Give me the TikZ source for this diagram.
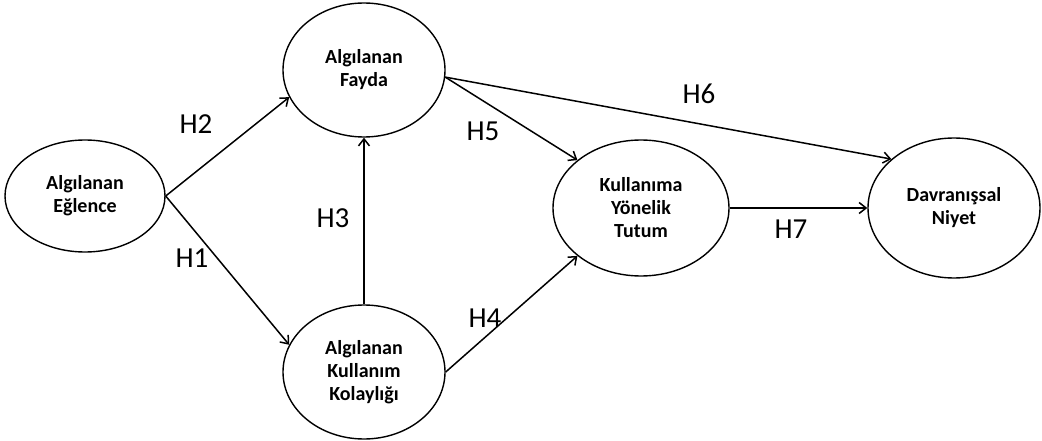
\documentclass[tikz,border=0pt]{standalone}
\usepackage{fontspec}
\setmainfont{Carlito}
\usepackage{tikz}
\usetikzlibrary{shapes.geometric,arrows.meta}

\begin{document}
\begin{tikzpicture}[
  x=1pt, y=-1pt,
  construct/.style={draw, ellipse, line width=1.4pt, align=center, inner sep=0pt, font=\fontsize{20}{23}\selectfont\bfseries},
  hlabel/.style={inner sep=0pt, font=\fontsize{29}{30}\selectfont},
  >={Straight Barb[length=7pt,width=11pt]}
]
\useasboundingbox (0,0) rectangle (1042,441);
\node[construct, minimum width=160pt, minimum height=112pt] (eg) at (85,196) {Algılanan\\Eğlence};
\node[construct, minimum width=162pt, minimum height=134pt] (fa) at (364,70) {Algılanan\\Fayda};
\node[construct, minimum width=162pt, minimum height=134pt] (ko) at (364,372) {Algılanan\\Kullanım\\Kolaylığı};
\node[construct, minimum width=176pt, minimum height=136pt] (tu) at (641,208) {Kullanıma\\Yönelik\\Tutum};
\node[construct, minimum width=172pt, minimum height=140pt] (ni) at (954,208) {Davranışsal\\Niyet};

\draw[->, line width=1.5pt] (eg.east) -- (fa.200);
\draw[->, line width=1.5pt] (eg.east) -- (ko.160);
\draw[->, line width=1.5pt] (ko.north) -- (fa.south);
\draw[->, line width=1.5pt] (fa.355) -- (tu.143);
\draw[->, line width=1.5pt] (fa.355) -- (ni.142);
\draw[->, line width=1.5pt] (ko.east) -- (tu.217);
\draw[->, line width=1.5pt] (tu.east) -- (ni.west);

\node[hlabel] (h2) at (196,124) {H2};
\node[hlabel] (h1) at (192,258) {H1};
\node[hlabel] (h3) at (333,218) {H3};
\node[hlabel] (h5) at (483,131) {H5};
\node[hlabel] (h6) at (699,94) {H6};
\node[hlabel] (h4) at (485,318) {H4};
\node[hlabel] (h7) at (791,229) {H7};
\end{tikzpicture}
\end{document}
